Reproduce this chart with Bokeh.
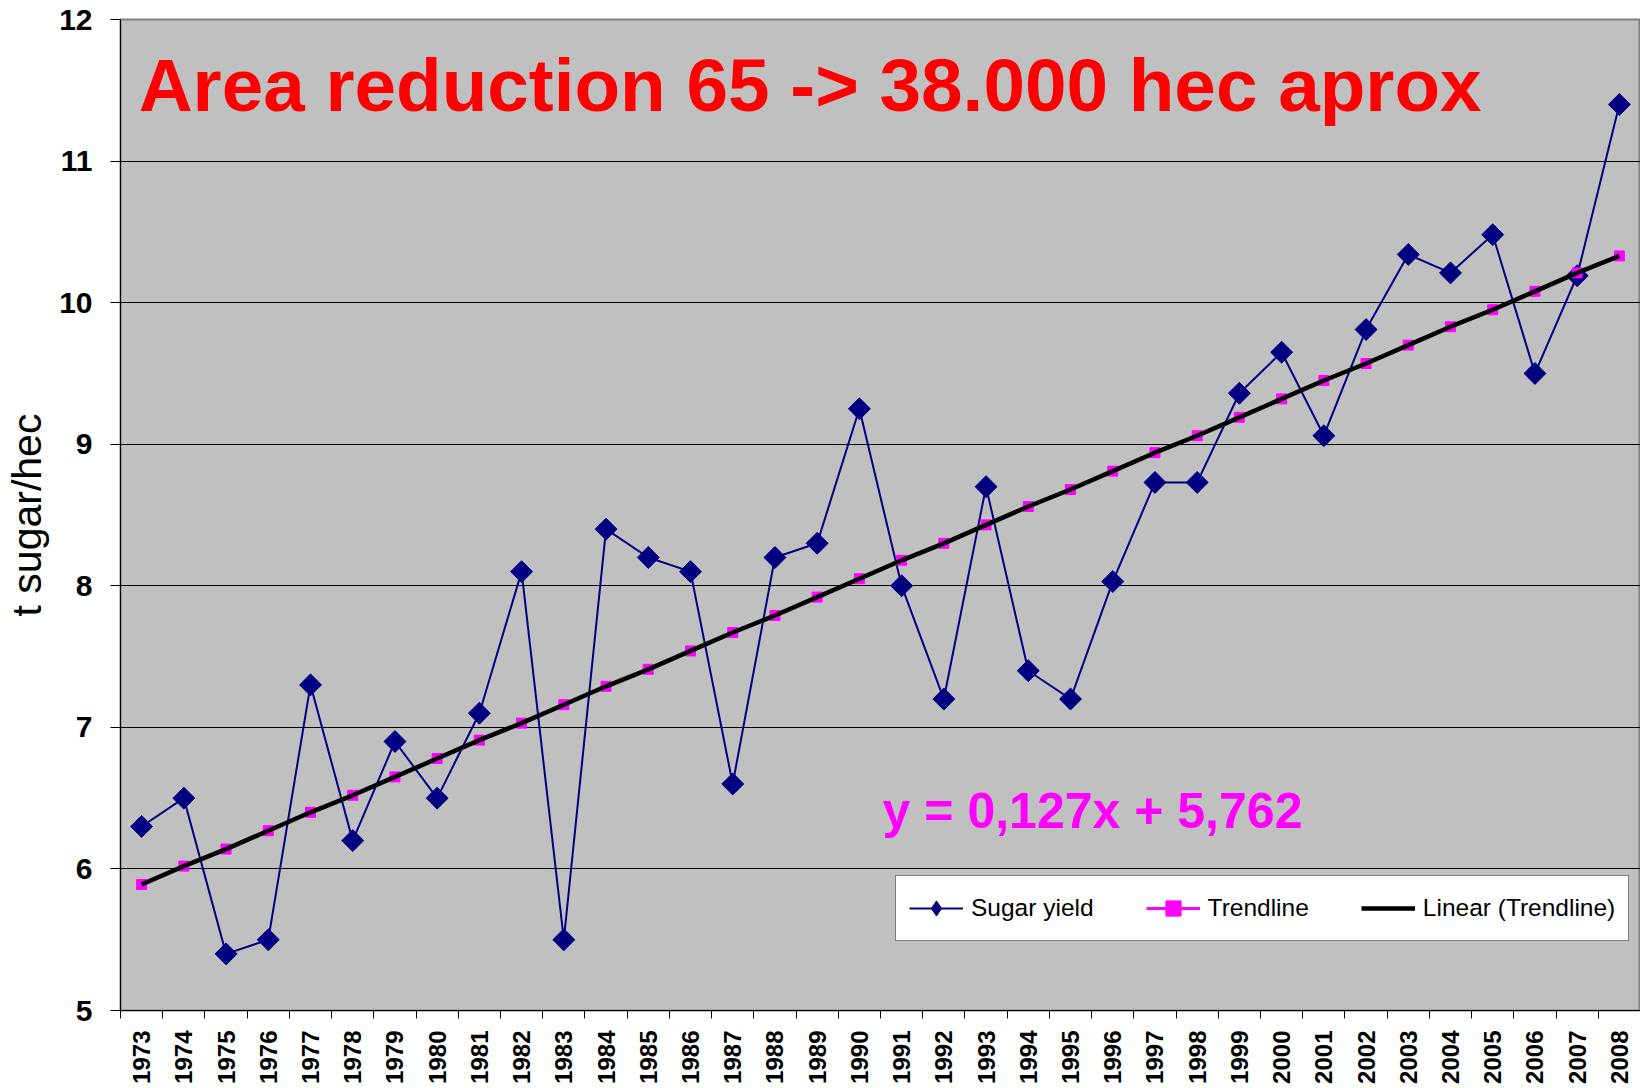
import math
from bokeh.plotting import figure
from bokeh.models import (Range1d, FixedTicker, Legend, LegendItem, Label,
                          ColumnDataSource)
from bokeh.embed import file_html
from bokeh.resources import INLINE

# ---- data ----
years = ["1973", "1974", "1975", "1976", "1977", "1978", "1979", "1980",
         "1981", "1982", "1983", "1984", "1985", "1986", "1987", "1988",
         "1989", "1990", "1991", "1992", "1993", "1994", "1995", "1996",
         "1997", "1998", "1999", "2000", "2001", "2002", "2003", "2004",
         "2005", "2006", "2007", "2008"]

sugar_yield = [6.30, 6.50, 5.40, 5.50, 7.30, 6.20, 6.90, 6.50, 7.10, 8.10,
               5.50, 8.40, 8.20, 8.10, 6.60, 8.20, 8.30, 9.25, 8.00, 7.20,
               8.70, 7.40, 7.20, 8.03, 8.73, 8.73, 9.36, 9.65, 9.06, 9.81,
               10.34, 10.21, 10.48, 9.50, 10.19, 11.40]

trendline = [5.89, 6.02, 6.14, 6.27, 6.40, 6.52, 6.65, 6.78, 6.91, 7.03,
             7.16, 7.29, 7.41, 7.54, 7.67, 7.79, 7.92, 8.05, 8.18, 8.30,
             8.43, 8.56, 8.68, 8.81, 8.94, 9.06, 9.19, 9.32, 9.45, 9.57,
             9.70, 9.83, 9.95, 10.08, 10.21, 10.33]

y_ticks = [5, 6, 7, 8, 9, 10, 11, 12]

title_text = "Area reduction 65 -> 38.000 hec aprox"
equation_text = "y = 0,127x + 5,762"
y_label = "t sugar/hec"
series_names = ["Sugar yield", "Trendline", "Linear (Trendline)"]

# ---- build ----
positions = list(range(1, len(years) + 1))
src = ColumnDataSource(dict(x=positions, sugar=sugar_yield, trend=trendline))

FONT = "Liberation Sans"
NAVY = "#000080"
MAGENTA = "#FF00FF"

p = figure(width=1640, height=1086,
           x_range=Range1d(0.5, len(years) + 0.5),
           y_range=Range1d(y_ticks[0], y_ticks[-1]),
           output_backend="svg", toolbar_location=None,
           min_border_left=120, min_border_right=0,
           min_border_top=19, min_border_bottom=76,
           background_fill_color="#C0C0C0", border_fill_color="white",
           outline_line_color="#808080", outline_line_width=2)

# x axis
xa = p.xaxis[0]
xa.ticker = FixedTicker(ticks=positions,
                        minor_ticks=[i + 0.5 for i in range(0, len(years) + 1)])
xa.major_label_overrides = {pos: yr for pos, yr in zip(positions, years)}
xa.major_label_orientation = math.pi / 2
xa.major_tick_out = 0
xa.major_tick_in = 0
xa.minor_tick_out = 8
xa.minor_tick_in = 0
xa.minor_tick_line_color = "black"
xa.major_label_standoff = 12
xa.major_label_text_font = FONT
xa.major_label_text_font_style = "bold"
xa.major_label_text_font_size = "24px"
xa.major_label_text_color = "black"
xa.axis_line_color = "black"

# y axis
ya = p.yaxis[0]
ya.ticker = FixedTicker(ticks=y_ticks)
ya.major_tick_out = 10
ya.major_tick_in = 0
ya.minor_tick_out = 0
ya.minor_tick_in = 0
ya.major_tick_line_color = "black"
ya.major_label_standoff = 18
ya.major_label_text_font = FONT
ya.major_label_text_font_style = "bold"
ya.major_label_text_font_size = "30px"
ya.major_label_text_color = "black"
ya.axis_line_color = "black"
ya.axis_label = y_label
ya.axis_label_text_font = FONT
ya.axis_label_text_font_style = "normal"
ya.axis_label_text_font_size = "41px"
ya.axis_label_text_color = "black"
ya.axis_label_standoff = 6

p.xgrid.visible = False
p.ygrid.grid_line_color = "black"
p.ygrid.grid_line_width = 1

# series
l1 = p.line("x", "sugar", source=src, line_color=NAVY, line_width=2)
s1 = p.scatter("x", "sugar", source=src, marker="square", angle=math.pi / 4,
               size=15.5, fill_color=NAVY, line_color=NAVY)
# diamond used only for the legend swatch (zero size in the plot)
s1_leg = p.scatter("x", "sugar", source=src, marker="diamond", size=0,
                   fill_color=NAVY, line_color=NAVY)
l2 = p.line("x", "trend", source=src, line_color=MAGENTA, line_width=3)
s2 = p.scatter("x", "trend", source=src, marker="square", size=10,
               fill_color=MAGENTA, line_color=MAGENTA)
l3 = p.line("x", "trend", source=src, line_color="black", line_width=4.5)

legend = Legend(items=[LegendItem(label=series_names[0], renderers=[l1, s1_leg]),
                       LegendItem(label=series_names[1], renderers=[l2, s2]),
                       LegendItem(label=series_names[2], renderers=[l3])],
                orientation="horizontal", location=(775, 69),
                glyph_width=54, glyph_height=38, label_standoff=8,
                spacing=52, padding=13, margin=0,
                border_line_color="black", border_line_width=1,
                background_fill_color="white", background_fill_alpha=1,
                label_text_font=FONT, label_text_font_size="24.5px",
                label_text_color="black")
p.add_layout(legend)

p.add_layout(Label(x=0.93, y=11.54, text=title_text, text_font=FONT,
                   text_font_style="bold", text_font_size="74.7px",
                   text_color="#FF0000", text_baseline="middle"))
p.add_layout(Label(x=18.55, y=6.41, text=equation_text, text_font=FONT,
                   text_font_style="bold", text_font_size="50px",
                   text_color=MAGENTA, text_baseline="middle"))

open("out.html", "w").write(file_html(p, INLINE))
